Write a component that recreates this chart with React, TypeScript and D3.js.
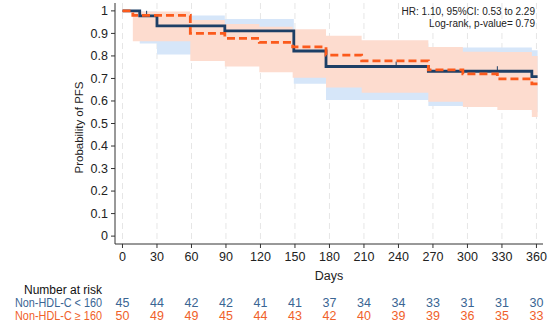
import * as d3 from "d3";

// Kaplan-Meier steps
const blueTimes = [0, 15, 30, 89, 149, 177, 266, 356];
const blueSurv = [1, 0.978, 0.933, 0.911, 0.822, 0.753, 0.732, 0.708];
const blueUpper = [1, 0.997, 0.98, 0.964, 0.91, 0.855, 0.837, 0.825];
const blueLower = [1, 0.855, 0.806, 0.785, 0.676, 0.604, 0.578, 0.55];
const blueCensor = [21, 238, 326];

const orangeTimes = [0, 9, 59, 89, 119, 148, 177, 208, 266, 296, 326, 356];
const orangeSurv = [1, 0.98, 0.9, 0.878, 0.86, 0.84, 0.804, 0.778, 0.738, 0.72, 0.698, 0.676];
const orangeUpper = [1, 0.997, 0.96, 0.942, 0.93, 0.918, 0.89, 0.87, 0.84, 0.819, 0.817, 0.8];
const orangeLower = [1, 0.865, 0.778, 0.753, 0.727, 0.703, 0.66, 0.637, 0.597, 0.573, 0.56, 0.529];

const endTime = 361;

const xTicks = [0, 30, 60, 90, 120, 150, 180, 210, 240, 270, 300, 330, 360];
const yTicks = [0, 0.1, 0.2, 0.3, 0.4, 0.5, 0.6, 0.7, 0.8, 0.9, 1];
const riskBlue = [45, 44, 42, 42, 41, 41, 37, 34, 34, 33, 31, 31, 30];
const riskOrange = [50, 49, 49, 45, 44, 43, 42, 40, 39, 39, 36, 35, 33];

const BLUE = "#1d3f66";
const ORANGE = "#fb5a1c";
const BLUE_TXT = "#3a6593";
const ORANGE_TXT = "#f0612a";
const FONT = "'Liberation Sans', Arial, sans-serif";

type Pt = { t: number; s: number; lo: number; hi: number };

function build(times: number[], s: number[], lo: number[], hi: number[]): Pt[] {
  const pts = times.map((t, i) => ({ t, s: s[i], lo: lo[i], hi: hi[i] }));
  const last = pts[pts.length - 1];
  pts.push({ ...last, t: endTime });
  return pts;
}

export default function App() {
  const width = 550;
  const height = 328;
  const x = d3.scaleLinear().domain([-6.5, 365.7]).range([115, 543]);
  const y = d3.scaleLinear().domain([-0.035, 1.035]).range([244, 3]);

  const blue = build(blueTimes, blueSurv, blueLower, blueUpper);
  const orange = build(orangeTimes, orangeSurv, orangeLower, orangeUpper);

  const line = d3
    .line<Pt>()
    .x((d) => x(d.t))
    .y((d) => y(d.s))
    .curve(d3.curveStepAfter);
  const band = d3
    .area<Pt>()
    .x((d) => x(d.t))
    .y0((d) => y(d.lo))
    .y1((d) => y(d.hi))
    .curve(d3.curveStepAfter);

  const survAt = (times: number[], s: number[], t: number) => {
    let v = s[0];
    times.forEach((tt, i) => {
      if (tt <= t) v = s[i];
    });
    return v;
  };

  const x0 = x.range()[0];
  const yBase = y.range()[0];
  const fs = 12.5;

  return (
    <svg
      width={width}
      height={height}
      style={{ position: "absolute", left: 0, top: 0, background: "#fff" }}
      fontFamily={FONT}
    >
      {/* vertical grid */}
      {xTicks.map((t) => (
        <line
          key={"g" + t}
          x1={x(t)}
          x2={x(t)}
          y1={y.range()[1]}
          y2={yBase}
          stroke="#e6e6e6"
          strokeWidth={1}
          strokeDasharray="6,4"
        />
      ))}

      {/* confidence bands */}
      <path d={band(blue) || ""} fill="#d6e6f9" />
      <path d={band(orange) || ""} fill="#fddccf" />

      {/* curves */}
      <path d={line(blue) || ""} fill="none" stroke={BLUE} strokeWidth={2.8} />
      {blueCensor.map((t) => {
        const v = survAt(blueTimes, blueSurv, t);
        return (
          <line
            key={"c" + t}
            x1={x(t)}
            x2={x(t)}
            y1={y(v) - 5}
            y2={y(v)}
            stroke={BLUE}
            strokeWidth={1}
          />
        );
      })}
      <path
        d={line(orange) || ""}
        fill="none"
        stroke={ORANGE}
        strokeWidth={2.8}
        strokeDasharray="8,4"
      />

      {/* y axis */}
      <line x1={x0} x2={x0} y1={y.range()[1]} y2={yBase} stroke="#333" />
      {yTicks.map((v) => (
        <g key={"y" + v}>
          <line x1={x0 - 4} x2={x0} y1={y(v)} y2={y(v)} stroke="#333" />
          <text
            x={x0 - 7}
            y={y(v)}
            dy="0.35em"
            textAnchor="end"
            fontSize={fs}
            fill="#222"
          >
            {v === 0 || v === 1 ? String(v) : v.toFixed(1)}
          </text>
        </g>
      ))}
      <text
        transform={`translate(83,${(y.range()[1] + yBase) / 2 + 4}) rotate(-90)`}
        textAnchor="middle"
        fontSize={11.5}
        fill="#222"
      >
        Probability of PFS
      </text>

      {/* x axis */}
      <line x1={x0} x2={x.range()[1]} y1={yBase} y2={yBase} stroke="#333" />
      {xTicks.map((t) => (
        <g key={"x" + t}>
          <line x1={x(t)} x2={x(t)} y1={yBase} y2={yBase + 4} stroke="#333" />
          <text x={x(t)} y={yBase + 17} textAnchor="middle" fontSize={fs} fill="#222">
            {t}
          </text>
        </g>
      ))}
      <text x={(x0 + x.range()[1]) / 2} y={280} textAnchor="middle" fontSize={fs} fill="#222">
        Days
      </text>

      {/* annotation */}
      <text x={535} y={15} textAnchor="end" fontSize={10} fill="#222">
        HR: 1.10, 95%CI: 0.53 to 2.29
      </text>
      <text x={535} y={27} textAnchor="end" fontSize={10} fill="#222">
        Log-rank, p-value= 0.79
      </text>

      {/* risk table */}
      <text x={102} y={294} textAnchor="end" fontSize={12} fill="#111">
        Number at risk
      </text>
      <text
        x={15}
        y={307}
        fontSize={12}
        fill={BLUE_TXT}
        textLength={87}
        lengthAdjust="spacingAndGlyphs"
      >
        Non-HDL-C &lt; 160
      </text>
      <text
        x={15}
        y={320}
        fontSize={12}
        fill={ORANGE_TXT}
        textLength={87}
        lengthAdjust="spacingAndGlyphs"
      >
        Non-HDL-C ≥ 160
      </text>
      {xTicks.map((t, i) => (
        <g key={"r" + t}>
          <text x={x(t)} y={307} textAnchor="middle" fontSize={fs} fill={BLUE_TXT}>
            {riskBlue[i]}
          </text>
          <text x={x(t)} y={320} textAnchor="middle" fontSize={fs} fill={ORANGE_TXT}>
            {riskOrange[i]}
          </text>
        </g>
      ))}
    </svg>
  );
}
